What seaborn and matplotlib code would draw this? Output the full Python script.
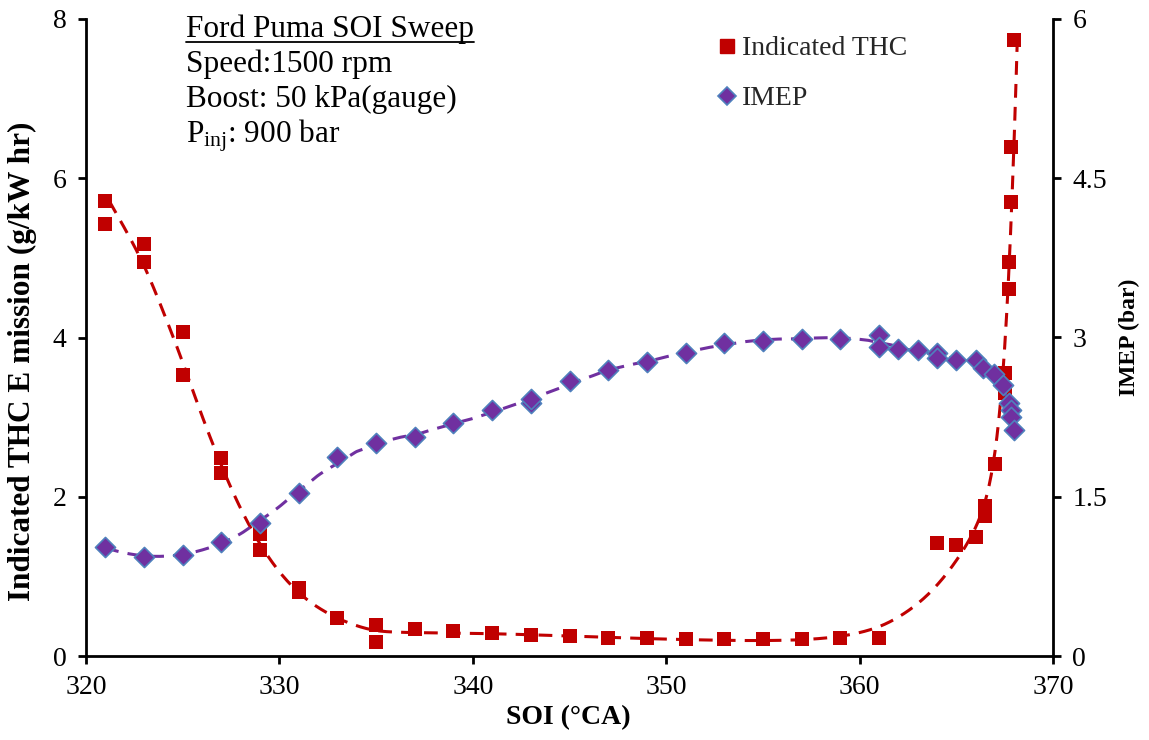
import numpy as np
import pandas as pd
import matplotlib
matplotlib.use("Agg")
import matplotlib.pyplot as plt
import seaborn as sns
from matplotlib.lines import Line2D

# Indicated total hydrocarbons vs start of injection
soi_thc = [321, 321, 323, 323, 325, 325, 327, 327, 329, 329, 331, 331, 333,
           335, 335, 337, 339, 341, 343, 345, 347, 349, 351, 353, 355, 357,
           359, 361, 364, 365, 366, 366.5, 366.5, 367, 367.5, 367.5, 367.7,
           367.7, 367.85, 367.85, 368]
thc = [5.72, 5.42, 5.17, 4.95, 4.07, 3.53, 2.49, 2.30, 1.53, 1.33, 0.85, 0.80,
       0.48, 0.39, 0.18, 0.34, 0.31, 0.29, 0.27, 0.25, 0.23, 0.22, 0.21, 0.21,
       0.21, 0.21, 0.22, 0.22, 1.42, 1.40, 1.50, 1.88, 1.76, 2.41, 3.55, 3.30,
       4.95, 4.61, 6.39, 5.70, 7.73]

# Indicated mean effective pressure vs start of injection
soi_imep = [321, 323, 325, 327, 329, 331, 333, 335, 337, 339, 341, 343, 343,
            345, 347, 349, 351, 353, 355, 357, 359, 361, 361, 362, 363, 364,
            364, 365, 366, 366.4, 366.95, 367.4, 367.7, 367.85, 367.85, 368]
imep = [1.03, 0.93, 0.95, 1.07, 1.25, 1.54, 1.87, 2.01, 2.06, 2.19, 2.32, 2.38,
        2.42, 2.59, 2.69, 2.77, 2.85, 2.95, 2.97, 2.99, 2.99, 3.02, 2.91, 2.89,
        2.88, 2.85, 2.81, 2.79, 2.79, 2.71, 2.66, 2.55, 2.38, 2.32, 2.25, 2.13]

x_ticks = [320, 330, 340, 350, 360, 370]
thc_ticks = [0, 2, 4, 6, 8]
imep_ticks = [0, 1.5, 3, 4.5, 6]
imep_tick_labels = ["0", "1.5", "3", "4.5", "6"]

info_title = "Ford Puma SOI Sweep"
info_lines = ["Speed:1500 rpm", "Boost: 50 kPa(gauge)", r"P$_{\mathrm{inj}}$: 900 bar"]

RED = "#C00000"
PURPLE = "#7030A0"
EDGE = "#4F81BD"


def adaptive_smoother(x, y, grid, lam0, bw=0.75):
    """Second-difference penalised smoother whose stiffness falls where data are dense."""
    x = np.asarray(x, float)
    y = np.asarray(y, float)
    n = len(grid)
    idx = np.abs(grid[:, None] - x[None, :]).argmin(axis=0)
    w = np.zeros(n)
    z = np.zeros(n)
    np.add.at(w, idx, 1.0)
    np.add.at(z, idx, y)
    dens = np.exp(-0.5 * ((grid[:, None] - x[None, :]) / bw) ** 2).sum(axis=1)
    dens /= bw * np.sqrt(2 * np.pi)
    lam = lam0 / np.maximum(dens[1:-1], 0.05) ** 2
    D = np.diff(np.eye(n), 2, axis=0)
    return np.linalg.solve(np.diag(w) + D.T @ (lam[:, None] * D), z)


def loess(x, y, grid, frac=0.22, deg=2):
    """Local polynomial regression with tricube weights (nearest-neighbour span)."""
    x = np.asarray(x, float)
    y = np.asarray(y, float)
    k = max(deg + 2, int(np.ceil(frac * len(x))))
    out = []
    for g in grid:
        d = np.abs(x - g)
        h = np.sort(d)[k - 1] * 1.05 + 1e-6
        w = np.clip(1 - (d / h) ** 3, 0, None) ** 3
        X = np.vander(x - g, deg + 1)
        sw = np.sqrt(w)
        coef, *_ = np.linalg.lstsq(X * sw[:, None], y * sw, rcond=None)
        out.append(coef[-1])
    return np.array(out)


df_thc = pd.DataFrame({"soi": soi_thc, "thc": thc})
df_imep = pd.DataFrame({"soi": soi_imep, "imep": imep})

# THC trend: smoothed in log space
grid_thc = np.round(np.arange(min(soi_thc), max(soi_thc) + 0.21, 0.05), 3)
smooth = np.exp(adaptive_smoother(df_thc.soi, np.log(df_thc.thc), grid_thc, 4e4))
keep = (grid_thc >= min(soi_thc) + 0.2) & (smooth <= 7.9)
fit_thc = pd.DataFrame({"soi": grid_thc[keep], "thc": smooth[keep]})

grid_imep = np.linspace(min(soi_imep), max(soi_imep) - 0.1, 600)
fit_imep = pd.DataFrame({"soi": grid_imep,
                         "imep": loess(df_imep.soi, df_imep.imep, grid_imep)})

sns.set_theme(style="white")
plt.rcParams["font.family"] = ["Liberation Serif", "DejaVu Serif"]
plt.rcParams["mathtext.fontset"] = "custom"
plt.rcParams["mathtext.rm"] = "Liberation Serif"
plt.rcParams["mathtext.it"] = "Liberation Serif:italic"
plt.rcParams["mathtext.bf"] = "Liberation Serif:bold"

W, H = 1149, 740
fig = plt.figure(figsize=(W / 100, H / 100), dpi=100)
ax = fig.add_axes([86 / W, 84 / H, 967 / W, 637 / H])
ax2 = ax.twinx()

dash = (0, (4.5, 3))
sns.lineplot(data=fit_thc, x="soi", y="thc", ax=ax, color=RED, lw=2.2,
             linestyle=dash, sort=False, legend=False, zorder=2)
sns.scatterplot(data=df_thc, x="soi", y="thc", ax=ax, marker="s", s=110,
                color=RED, edgecolor=RED, linewidth=0, zorder=3, legend=False)

sns.lineplot(data=fit_imep, x="soi", y="imep", ax=ax2, color=PURPLE, lw=2.2,
             linestyle=dash, sort=False, legend=False, zorder=2)
sns.scatterplot(data=df_imep, x="soi", y="imep", ax=ax2, marker="D", s=105,
                color=PURPLE, edgecolor=EDGE, linewidth=1.2, zorder=3, legend=False)

ax.set_xlim(320, 370)
ax.set_ylim(0, 8)
ax2.set_ylim(0, 6)
ax.set_xticks(x_ticks)
ax.set_xticklabels([str(t) for t in x_ticks])
ax.set_yticks(thc_ticks)
ax.set_yticklabels([str(t) for t in thc_ticks])
ax2.set_yticks(imep_ticks)
ax2.set_yticklabels(imep_tick_labels)

for a in (ax, ax2):
    a.grid(False)
    a.set_facecolor("none")
    a.spines["top"].set_visible(False)
    for s in ("left", "right", "bottom"):
        a.spines[s].set_linewidth(2.0)
        a.spines[s].set_color("black")
ax.spines["right"].set_visible(False)
ax2.spines["left"].set_visible(False)
ax2.spines["bottom"].set_visible(False)

ax.tick_params(axis="x", direction="out", length=6, width=2, pad=8,
               labelsize=20, colors="black", bottom=True)
ax.tick_params(axis="y", direction="out", length=6, width=2, pad=8,
               labelsize=20, colors="black", left=True)
ax2.tick_params(axis="y", direction="out", length=6, width=2, pad=8,
                labelsize=20, colors="black", right=True)

ax.set_xlabel("SOI (°CA)", fontsize=20, fontweight="bold", color="black")
ax.xaxis.set_label_coords((568 - 86) / 967, (656 - 705) / 637)
ax.set_ylabel("Indicated THC E mission (g/kW hr)", fontsize=22.5,
              fontweight="bold", color="black")
ax.yaxis.label.set_verticalalignment("center")
ax.yaxis.set_label_coords((22 - 86) / 967, (656 - 361) / 637)
ax2.set_ylabel("IMEP (bar)", fontsize=17, fontweight="bold", color="black",
               rotation=90)
ax2.yaxis.label.set_verticalalignment("center")
ax2.yaxis.set_label_coords((1129 - 86) / 967, (656 - 337) / 637)

# Test conditions block
t0 = fig.text(186 / W, 1 - 37 / H, info_title, fontsize=22.5, ha="left",
              va="baseline", color="black")
for i, line in enumerate(info_lines):
    fig.text(186 / W, 1 - (72 + 35 * i) / H, line, fontsize=22.5, ha="left",
             va="baseline", color="black")
fig.canvas.draw()
bb = t0.get_window_extent(renderer=fig.canvas.get_renderer())
uy = bb.y0 + 2
fig.add_artist(Line2D([bb.x0 / W, bb.x1 / W], [uy / H, uy / H],
                      transform=fig.transFigure, color="black", lw=1.3))

handles = [
    Line2D([], [], marker="s", linestyle="none", markersize=10,
           markerfacecolor=RED, markeredgecolor=RED),
    Line2D([], [], marker="D", linestyle="none", markersize=9,
           markerfacecolor=PURPLE, markeredgecolor=EDGE, markeredgewidth=1.2),
]
ax2.legend(handles, ["Indicated THC", "IMEP"], loc="upper left",
           bbox_to_anchor=(716 / W, 1 - 36 / H), bbox_transform=fig.transFigure,
           frameon=False, fontsize=20, handlelength=0.8, handletextpad=0.15,
           labelspacing=0.88, borderpad=0, borderaxespad=0)

fig.savefig("out.png", dpi=100, facecolor="white")
